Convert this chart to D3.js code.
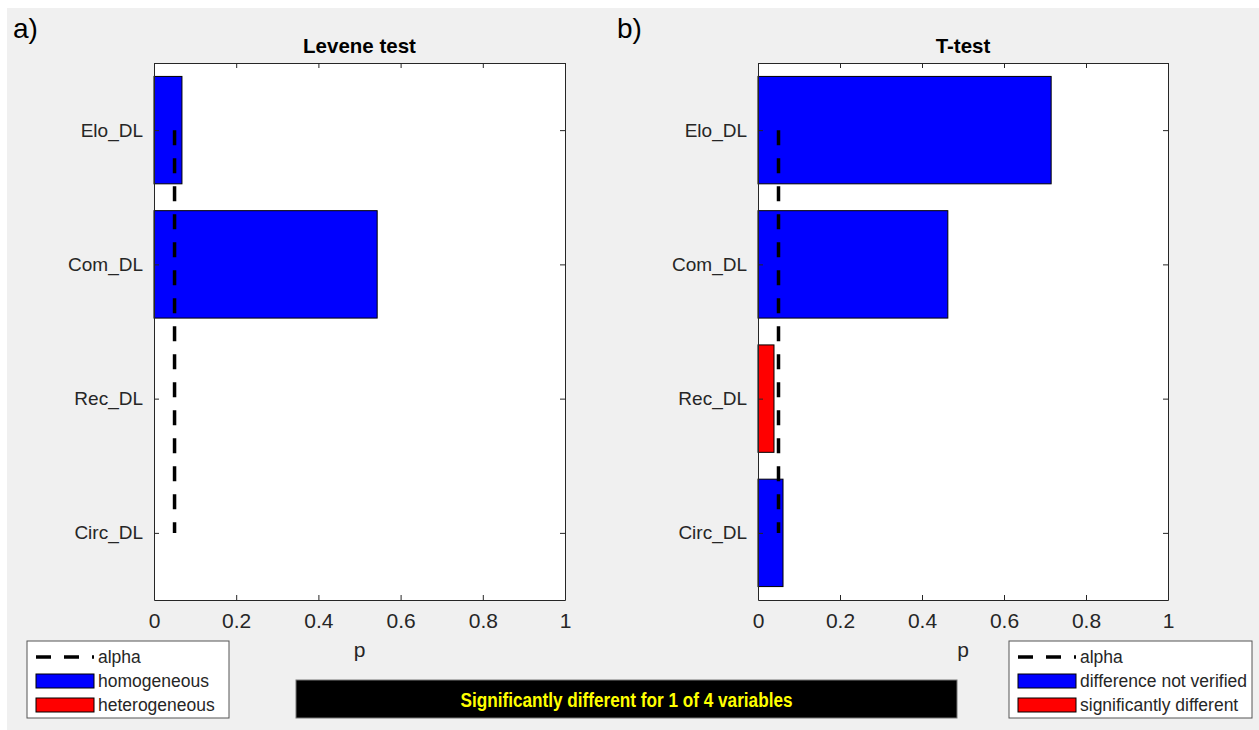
<!DOCTYPE html>
<html>
  <head>
    <meta charset="utf-8" />
    <style>
      body { margin: 0; background: #fff; }
      text { font-family: Arial, "Liberation Sans", Helvetica, sans-serif; }
    </style>
  </head>
  <body>

<svg id="graph"></svg>

<script src="https://d3js.org/d3.v7.min.js"></script>
<script>
const WIDTH = 1259
const HEIGHT = 730

// data
const CATEGORIES = ['Elo_DL', 'Com_DL', 'Rec_DL', 'Circ_DL']
const LEVENE_P = [0.068, 0.543, 0, 0]
const TTEST_P = [0.715, 0.463, 0.039, 0.061]
const ALPHA = 0.05
const X_TICKS = [0, 0.2, 0.4, 0.6, 0.8, 1]
const LEGEND_LEVENE = ['alpha', 'homogeneous', 'heterogeneous']
const LEGEND_TTEST = ['alpha', 'difference not verified', 'significantly different']
const BANNER = 'Significantly different for 1 of 4 variables'

const BLUE = '#0000ff'
const RED = '#ff0000'
const AXIS_COL = '#262626'

const svg = d3.select('#graph')
  .attr('width', WIDTH)
  .attr('height', HEIGHT)

// gray figure background
svg.append('rect')
  .attr('x', 7).attr('y', 8)
  .attr('width', WIDTH - 7).attr('height', HEIGHT - 8)
  .attr('fill', '#f0f0f0')

const TOP = 63
const BOTTOM = 600

function panel(left, right, title, letter, values, colorFn, legendX, legendW, legendLabels) {
  const x = d3.scaleLinear().domain([0, 1]).range([left, right])
  // numeric category scale, 0.5 .. 4.5 like matlab barh
  const y = d3.scaleLinear().domain([0.5, CATEGORIES.length + 0.5]).range([TOP, BOTTOM])
  const band = (y(2) - y(1)) * 0.8

  const g = svg.append('g')

  g.append('rect')
    .attr('x', left).attr('y', TOP)
    .attr('width', right - left).attr('height', BOTTOM - TOP)
    .attr('fill', '#fff')

  // bars
  g.selectAll('rect.bar')
    .data(values)
    .enter()
    .append('rect')
    .attr('class', 'bar')
    .attr('x', x(0))
    .attr('y', (d, i) => y(i + 1) - band / 2)
    .attr('width', d => x(d) - x(0))
    .attr('height', band)
    .attr('fill', (d, i) => colorFn(d, i))
    .attr('stroke', '#000')
    .attr('stroke-width', 1)

  // alpha line
  g.append('line')
    .attr('x1', x(ALPHA)).attr('x2', x(ALPHA))
    .attr('y1', y(1)).attr('y2', y(CATEGORIES.length))
    .attr('stroke', '#000')
    .attr('stroke-width', 3.5)
    .attr('stroke-dasharray', '15,13')

  // axes
  const bottomAxis = d3.axisBottom(x).tickValues(X_TICKS).tickSizeInner(-5).tickSizeOuter(0)
    .tickPadding(13).tickFormat(d => d)
  const topAxis = d3.axisTop(x).tickValues(X_TICKS).tickSizeInner(-5).tickSizeOuter(0).tickFormat('')
  const leftAxis = d3.axisLeft(y).tickValues(d3.range(1, CATEGORIES.length + 1))
    .tickSizeInner(-5).tickSizeOuter(0).tickPadding(11).tickFormat(d => CATEGORIES[d - 1])
  const rightAxis = d3.axisRight(y).tickValues(d3.range(1, CATEGORIES.length + 1))
    .tickSizeInner(-5).tickSizeOuter(0).tickFormat('')

  const axes = [
    g.append('g').attr('transform', `translate(0,${BOTTOM})`).call(bottomAxis),
    g.append('g').attr('transform', `translate(0,${TOP})`).call(topAxis),
    g.append('g').attr('transform', `translate(${left},0)`).call(leftAxis),
    g.append('g').attr('transform', `translate(${right},0)`).call(rightAxis),
  ]
  axes.forEach((a, k) => {
    a.selectAll('path,line').attr('stroke', AXIS_COL)
    a.selectAll('text').attr('fill', AXIS_COL).style('font-size', k === 0 ? '21px' : '19px')
      .style('font-family', 'Arial, "Liberation Sans", sans-serif')
  })

  g.append('text')
    .attr('x', (left + right) / 2).attr('y', 53)
    .attr('text-anchor', 'middle')
    .style('font-size', '20.5px').style('font-weight', 'bold')
    .text(title)

  g.append('text')
    .attr('x', (left + right) / 2).attr('y', 657)
    .attr('text-anchor', 'middle')
    .attr('fill', AXIS_COL)
    .style('font-size', '21px')
    .text('p')

  g.append('text')
    .attr('x', left - 141).attr('y', 38)
    .style('font-size', '28px')
    .text(letter)

  // legend
  const lg = svg.append('g').attr('transform', `translate(${legendX},641)`)
  lg.append('rect')
    .attr('width', legendW).attr('height', 77)
    .attr('fill', '#fff').attr('stroke', '#555').attr('stroke-width', 1)
  const rowY = [16, 40, 64]
  lg.append('line')
    .attr('x1', 9).attr('x2', 67).attr('y1', rowY[0]).attr('y2', rowY[0])
    .attr('stroke', '#000').attr('stroke-width', 3.5).attr('stroke-dasharray', '15,13')
  lg.selectAll('rect.sw')
    .data([BLUE, RED])
    .enter()
    .append('rect')
    .attr('class', 'sw')
    .attr('x', 9).attr('y', (d, i) => rowY[i + 1] - 7)
    .attr('width', 58).attr('height', 14)
    .attr('fill', d => d).attr('stroke', '#000')
  lg.selectAll('text')
    .data(legendLabels)
    .enter()
    .append('text')
    .attr('x', 71).attr('y', (d, i) => rowY[i] + 6)
    .attr('fill', AXIS_COL)
    .style('font-size', '17.5px')
    .text(d => d)
}

panel(154, 565, 'Levene test', 'a)', LEVENE_P, d => d < ALPHA ? RED : BLUE, 27, 202, LEGEND_LEVENE)
panel(758, 1168, 'T-test', 'b)', TTEST_P, d => d < ALPHA ? RED : BLUE, 1009, 243, LEGEND_TTEST)

// banner
svg.append('rect')
  .attr('x', 296).attr('y', 680)
  .attr('width', 661).attr('height', 38)
  .attr('fill', '#000').attr('stroke', '#777')
svg.append('text')
  .attr('x', 626.5).attr('y', 707)
  .attr('text-anchor', 'middle')
  .attr('fill', '#ffff00')
  .attr('textLength', 332)
  .attr('lengthAdjust', 'spacingAndGlyphs')
  .style('font-size', '20px').style('font-weight', 'bold')
  .text(BANNER)
</script>
  </body>
</html>
